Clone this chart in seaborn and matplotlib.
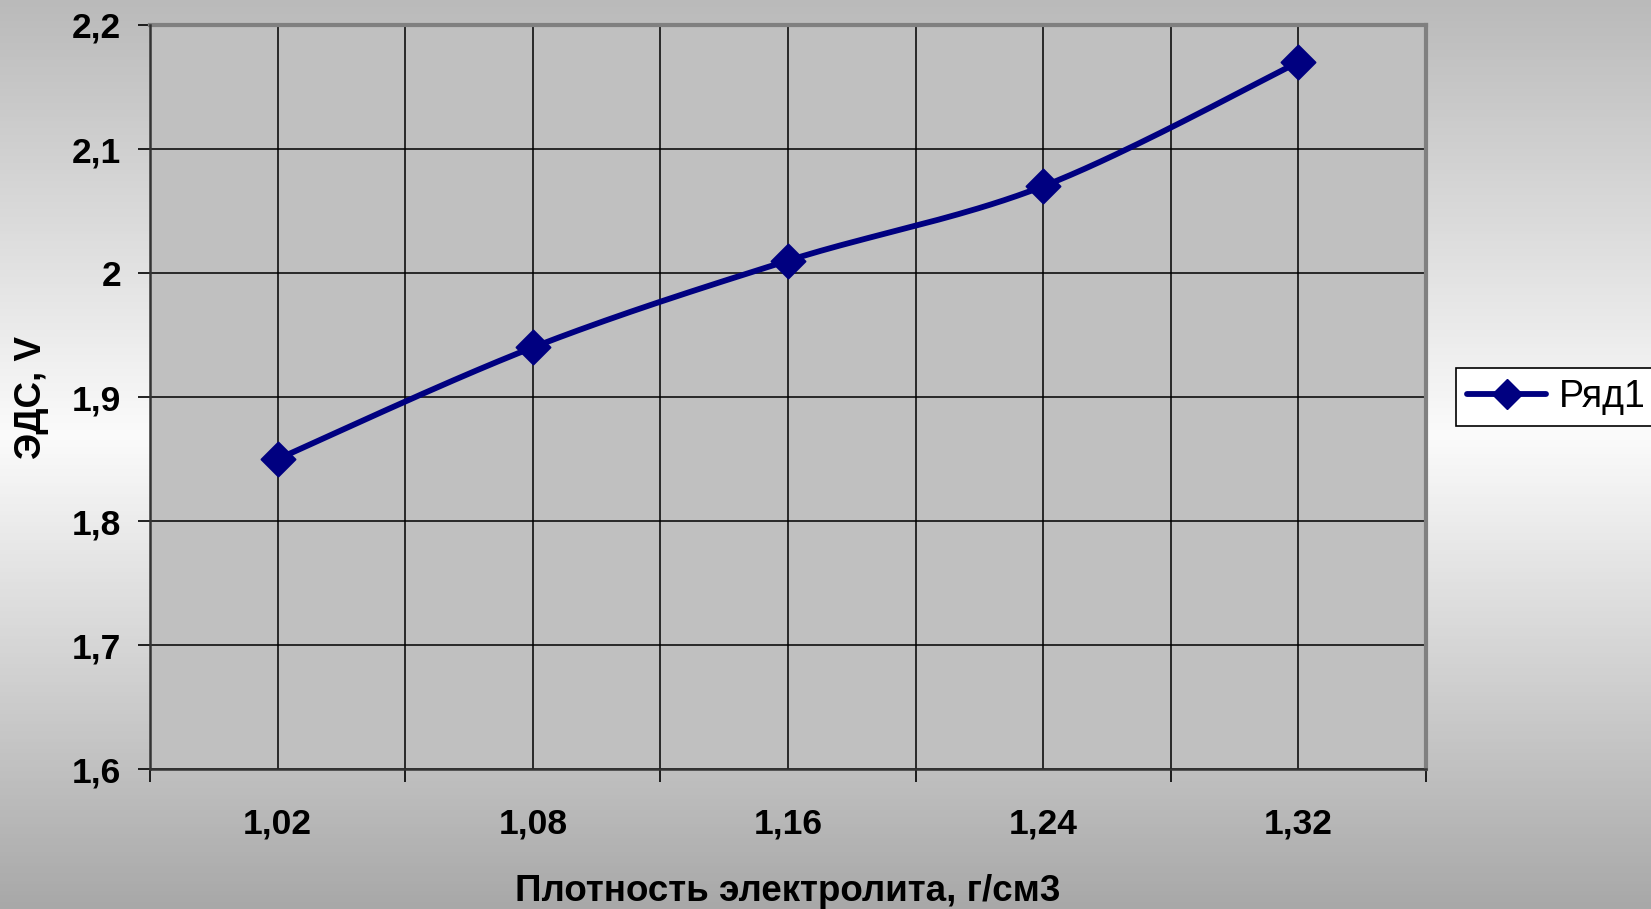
import numpy as np
import pandas as pd
import matplotlib
matplotlib.use("Agg")
import matplotlib.pyplot as plt
from matplotlib.colors import LinearSegmentedColormap
from matplotlib.lines import Line2D
import seaborn as sns

# data
density = ["1,02", "1,08", "1,16", "1,24", "1,32"]
emf = [1.85, 1.94, 2.01, 2.07, 2.17]
series_name = "Ряд1"

sns.set_theme(style="white")
plt.rcParams['font.family'] = ['Liberation Sans', 'DejaVu Sans']
plt.rcParams['text.color'] = 'black'
plt.rcParams['axes.labelcolor'] = 'black'
plt.rcParams['xtick.color'] = 'black'
plt.rcParams['ytick.color'] = 'black'

fig = plt.figure(figsize=(16.51, 9.09), dpi=100)

# background gradient like the excel chart area
bg = fig.add_axes([0, 0, 1, 1], zorder=-10)
cmap = LinearSegmentedColormap.from_list("bg", [(0, "#bababa"), (0.48, "#fbfbfb"), (1.0, "#a8a8a8")])
bg.imshow(np.linspace(0, 1, 256).reshape(-1, 1), aspect="auto", cmap=cmap, extent=[0, 1, 0, 1])
bg.axis("off")

ax = fig.add_axes([0.0909, 0.154, 0.7728, 0.8185])
ax.set_facecolor("#c0c0c0")

# excel style smoothed line (bezier through points)
xs = np.arange(len(emf), dtype=float)
ys = np.array(emf)
px = np.concatenate([[xs[0]], xs, [xs[-1]]])
py = np.concatenate([[ys[0]], ys, [ys[-1]]])
t = np.linspace(0, 1, 40)[:, None]
cx, cy = [], []
for i in range(1, len(px) - 2):
    p0 = np.array([px[i], py[i]])
    p3 = np.array([px[i + 1], py[i + 1]])
    p1 = p0 + (np.array([px[i + 1], py[i + 1]]) - np.array([px[i - 1], py[i - 1]])) / 6
    p2 = p3 - (np.array([px[i + 2], py[i + 2]]) - np.array([px[i], py[i]])) / 6
    b = (1 - t) ** 3 * p0 + 3 * (1 - t) ** 2 * t * p1 + 3 * (1 - t) * t ** 2 * p2 + t ** 3 * p3
    cx.extend(b[:, 0]); cy.extend(b[:, 1])
curve = pd.DataFrame({"x": cx, "y": cy})
pts = pd.DataFrame({"x": xs, "y": ys})

sns.lineplot(data=curve, x="x", y="y", sort=False, color="#000080", linewidth=4.2, ax=ax, zorder=3)
sns.scatterplot(data=pts, x="x", y="y", marker="D", s=300, color="#000080", edgecolor="#000080", ax=ax, zorder=4)

ax.set_xlim(-0.5, len(emf) - 0.5)
ax.set_ylim(1.6, 2.2)
ax.set_yticks(np.arange(1.6, 2.21, 0.1))
ax.set_yticklabels([f"{v:.1f}".replace(".", ",").replace(",0", "") for v in np.arange(1.6, 2.21, 0.1)])
ax.set_xticks(xs)
ax.set_xticklabels(density)
ax.set_xticks(np.arange(-0.5, len(emf), 1.0), minor=True)
ax.tick_params(axis="x", which="major", length=0, pad=28, labelsize=25.5)
ax.tick_params(axis="x", which="minor", length=9, width=1.2, color="black", direction="out", bottom=True)
ax.tick_params(axis="y", which="major", length=9, width=1.2, color="black", direction="out", left=True, pad=12, labelsize=25.5)
for lab in ax.get_xticklabels() + ax.get_yticklabels():
    lab.set_fontweight("bold")

ax.grid(True, which="both", color="black", linewidth=1.1)
ax.set_axisbelow(True)

for s in ["top", "right"]:
    ax.spines[s].set_color("#808080")
    ax.spines[s].set_linewidth(3)
for s in ["left", "bottom"]:
    ax.spines[s].set_color("#333333")
    ax.spines[s].set_linewidth(1.8)
ax.spines["left"].set_zorder(5)

ax.set_xlabel("Плотность электролита, г/см3", fontsize=26.5, fontweight="bold", labelpad=24)
ax.set_ylabel("ЭДС, V", fontsize=26.5, fontweight="bold", labelpad=16)

handle = Line2D([], [], color="#000080", linewidth=4.2, marker="D", markersize=15)
leg = fig.legend([handle], [series_name], loc="center left", bbox_to_anchor=(0.882, 0.5635),
                 fontsize=27, frameon=True, fancybox=False, edgecolor="black",
                 facecolor="white", framealpha=1, handlelength=2.1, borderpad=0.3,
                 handletextpad=0.35, borderaxespad=0)
leg.get_frame().set_linewidth(1.2)

fig.savefig("out.png", dpi=100)
